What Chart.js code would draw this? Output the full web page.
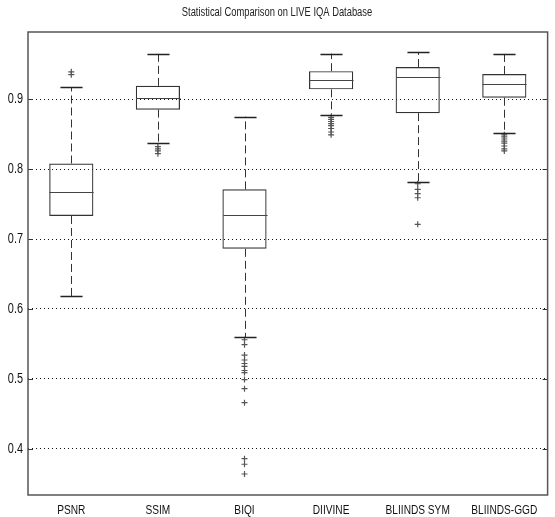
<!DOCTYPE html>
<html><head><meta charset="utf-8">
<script src="https://cdn.jsdelivr.net/npm/chart.js@4/dist/chart.umd.min.js"></script>
<style>html,body{margin:0;padding:0;background:#fff}#wrap{width:555px;height:517px}</style>
</head><body><div id="wrap"><canvas id="c"></canvas></div>
<script>
const categories = ['PSNR', 'SSIM', 'BIQI', 'DIIVINE', 'BLIINDS SYM', 'BLIINDS-GGD'];
const q1 = [0.733, 0.885, 0.686, 0.914, 0.880, 0.902];
const medians = [0.767, 0.901, 0.734, 0.928, 0.932, 0.922];
const q3 = [0.808, 0.919, 0.771, 0.940, 0.946, 0.936];
const whiskerLow = [0.618, 0.837, 0.560, 0.878, 0.781, 0.852];
const whiskerHigh = [0.917, 0.965, 0.875, 0.965, 0.967, 0.965];
const outliers = [
  [0.935, 0.939],
  [0.832, 0.829, 0.826, 0.822],
  [0.556, 0.549, 0.534, 0.527, 0.522, 0.518, 0.512, 0.509, 0.499, 0.486, 0.466, 0.386, 0.378, 0.364],
  [0.874, 0.871, 0.868, 0.865, 0.862, 0.858, 0.853, 0.849],
  [0.779, 0.771, 0.765, 0.759, 0.721],
  [0.849, 0.846, 0.843, 0.840, 0.837, 0.833, 0.829, 0.826]
];
const yTicks = [0.4, 0.5, 0.6, 0.7, 0.8, 0.9];
const titleText = 'Statistical Comparison on LIVE IQA Database';

const FONT = "'Liberation Sans', Arial, sans-serif";
const NARROW = 0.78; // horizontal condensing to mimic a narrow face

const canvas = document.getElementById('c');
const ctx0 = canvas.getContext('2d');
const origFill = ctx0.fillText;
ctx0.fillText = function (t, x, y, mw) {
  this.save();
  this.translate(x, y);
  this.scale(NARROW, 1);
  if (mw === undefined) origFill.call(this, t, 0, 0); else origFill.call(this, t, 0, 0, mw / NARROW);
  this.restore();
};

const outlierPoints = [];
outliers.forEach((arr, i) => arr.forEach(v => outlierPoints.push({x: categories[i], y: v})));

const boxPlugin = {
  id: 'boxExtras',
  afterDatasetsDraw(chart) {
    const ctx = chart.ctx, xs = chart.scales.x, ys = chart.scales.y;
    const meta = chart.getDatasetMeta(0);
    const a = chart.chartArea;
    ctx.save();
    ctx.lineWidth = 1;
    categories.forEach((c, i) => {
      const x = Math.round(xs.getPixelForValue(i)) + 0.5;
      const bar = meta.data[i];
      const half = bar.width / 2;
      const capHalf = half * 0.5;
      const ym = Math.round(ys.getPixelForValue(medians[i])) + 0.5;
      ctx.setLineDash([]);
      ctx.strokeStyle = '#444';
      ctx.beginPath(); ctx.moveTo(x - half, ym); ctx.lineTo(x + half, ym); ctx.stroke();
      ctx.strokeStyle = '#333';
      ctx.setLineDash([8, 4]);
      ctx.beginPath();
      ctx.moveTo(x, ys.getPixelForValue(q3[i])); ctx.lineTo(x, ys.getPixelForValue(whiskerHigh[i]));
      ctx.moveTo(x, ys.getPixelForValue(q1[i])); ctx.lineTo(x, ys.getPixelForValue(whiskerLow[i]));
      ctx.stroke();
      ctx.setLineDash([]);
      ctx.strokeStyle = '#222';
      const yh = Math.round(ys.getPixelForValue(whiskerHigh[i])) + 0.5;
      const yl = Math.round(ys.getPixelForValue(whiskerLow[i])) + 0.5;
      ctx.lineWidth = 1.5;
      ctx.beginPath();
      ctx.moveTo(x - capHalf, yh); ctx.lineTo(x + capHalf, yh);
      ctx.moveTo(x - capHalf, yl); ctx.lineTo(x + capHalf, yl);
      ctx.stroke();
      ctx.lineWidth = 1;
    });
    ctx.strokeStyle = '#333';
    ctx.lineWidth = 1;
    ctx.beginPath();
    yTicks.forEach(v => {
      const y = Math.round(ys.getPixelForValue(v)) + 0.5;
      ctx.moveTo(a.left, y); ctx.lineTo(a.left + 5, y);
      ctx.moveTo(a.right - 5, y); ctx.lineTo(a.right, y);
    });
    ctx.stroke();
    ctx.strokeStyle = '#555';
    ctx.lineWidth = 1.5;
    ctx.strokeRect(a.left, a.top, a.right - a.left, a.bottom - a.top);
    ctx.restore();
  }
};

new Chart(canvas, {
  type: 'bar',
  data: {
    labels: categories,
    datasets: [
      {
        type: 'bar',
        data: q1.map((v, i) => [v, q3[i]]),
        backgroundColor: 'rgba(255,255,255,0)',
        borderColor: '#333',
        borderWidth: 1.2,
        borderSkipped: false,
        barPercentage: 0.51,
        categoryPercentage: 1,
        order: 2
      },
      {
        type: 'scatter',
        data: outlierPoints,
        pointStyle: 'cross',
        radius: 3,
        borderColor: '#555',
        borderWidth: 1.2,
        backgroundColor: '#555',
        order: 1
      }
    ]
  },
  plugins: [boxPlugin],
  options: {
    responsive: true,
    maintainAspectRatio: false,
    animation: false,
    layout: {padding: {left: 0, right: 1, top: 0, bottom: 0}},
    plugins: {
      legend: {display: false},
      tooltip: {enabled: false},
      title: {
        display: true,
        text: titleText,
        color: '#222',
        font: {family: FONT, size: 12, weight: 'normal'},
        padding: {top: 5, bottom: 12.6}
      }
    },
    scales: {
      x: {
        type: 'category',
        offset: true,
        grid: {display: false, drawTicks: false},
        border: {display: false},
        ticks: {color: '#111', font: {family: FONT, size: 13}, padding: 8, maxRotation: 0, minRotation: 0, autoSkip: false},
        afterFit(s) { s.height = 22; }
      },
      y: {
        min: 0.334,
        max: 0.996,
        afterBuildTicks(s) { s.ticks = yTicks.map(v => ({value: v})); },
        grid: {color: '#111', lineWidth: 1, drawTicks: false},
        border: {display: false, dash: [1, 3]},
        ticks: {color: '#111', font: {family: FONT, size: 14}, padding: 5, callback: v => v.toFixed(1)},
        afterFit(s) { s.width = 28; }
      }
    }
  }
});
</script>
</body></html>
